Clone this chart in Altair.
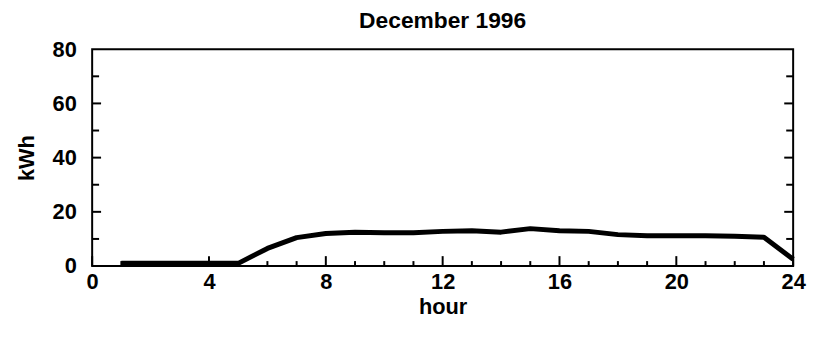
import altair as alt
import pandas as pd

hours = [1, 2, 3, 4, 5, 6, 7, 8, 9, 10, 11, 12, 13, 14, 15, 16, 17, 18, 19, 20, 21, 22, 23, 24]
kwh = [1.0, 1.0, 1.0, 1.0, 1.0, 6.5, 10.5, 12.0, 12.5, 12.3, 12.3, 12.8, 13.0, 12.5,
       13.8, 13.0, 12.8, 11.6, 11.2, 11.2, 11.2, 11.0, 10.6, 2.5]

x_major = [0, 4, 8, 12, 16, 20, 24]
x_minor = [1, 2, 3, 5, 6, 7, 9, 10, 11, 13, 14, 15, 17, 18, 19, 21, 22, 23]
y_labels = [0, 20, 40, 60, 80]
y_major = [20, 40, 60]
y_minor = [10, 30, 50, 70]

W, H = 708, 219
FONT = "Liberation Sans"

df = pd.DataFrame({"hour": hours, "kWh": kwh})
xs = alt.Scale(domain=[0, 24], nice=False, zero=False)
ys = alt.Scale(domain=[0, 80], nice=False)
xaxis = alt.Axis(values=x_major, title="hour", ticks=False, domain=False, grid=False,
                 labelPadding=6, titlePadding=4, labelFlush=False, labelOverlap=False)
yaxis = alt.Axis(values=y_labels, title="kWh", ticks=False, domain=False, grid=False,
                 labelPadding=16, titlePadding=14, labelFlush=False, labelOverlap=False)

line = alt.Chart(df).mark_line(color="black", strokeWidth=5, strokeCap="butt", strokeJoin="round").encode(
    x=alt.X("hour:Q", scale=xs, axis=xaxis),
    y=alt.Y("kWh:Q", scale=ys, axis=yaxis),
)

def xticks(vals, length):
    return alt.Chart(pd.DataFrame({"hour": vals})).mark_rule(color="black", strokeWidth=2).encode(
        x=alt.X("hour:Q", scale=xs, axis=xaxis), y=alt.value(H), y2=alt.value(H - length))

def yticks(vals, length, right=False):
    x0 = W if right else 0
    x1 = W - length if right else length
    return alt.Chart(pd.DataFrame({"kWh": vals})).mark_rule(color="black", strokeWidth=2).encode(
        y=alt.Y("kWh:Q", scale=ys, axis=yaxis), x=alt.value(x0), x2=alt.value(x1))

chart = alt.layer(
    line,
    xticks(x_major, 10), xticks(x_minor, 5),
    yticks(y_major, 9), yticks(y_minor, 7),
    yticks(y_major, 9, True), yticks(y_minor, 7, True),
).properties(
    width=W, height=H,
    title=alt.TitleParams("December 1996", fontSize=23, font=FONT, fontWeight="bold", offset=5,
                          anchor="middle", color="black"),
    autosize=alt.AutoSizeParams(type="none"),
    padding={"left": 85, "top": 40, "right": 15, "bottom": 66},
).configure_view(
    stroke="black", strokeWidth=2
).configure_axis(
    labelFont=FONT, titleFont=FONT, labelFontSize=22, titleFontSize=22,
    labelColor="black", titleColor="black", titleFontWeight="bold", labelFontWeight="bold"
)

chart.save("out.html", embed_options={"renderer": "svg", "actions": False})
